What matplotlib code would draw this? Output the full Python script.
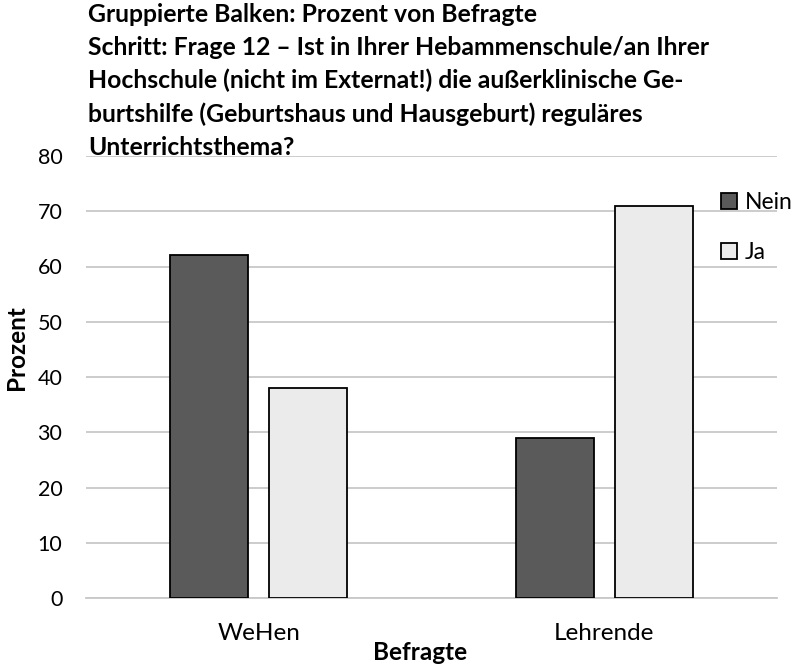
import matplotlib
matplotlib.use('Agg')
import matplotlib.pyplot as plt
import numpy as np

# data
groups = ['WeHen', 'Lehrende']
nein = [62, 29]
ja = [38, 71]
series_names = ['Nein', 'Ja']
yticks = [0, 10, 20, 30, 40, 50, 60, 70, 80]

title = ('Gruppierte Balken: Prozent von Befragte\n'
         'Schritt: Frage 12 \u2013 Ist in Ihrer Hebammenschule/an Ihrer\n'
         'Hochschule (nicht im Externat!) die au\u00dferklinische Ge-\n'
         'burtshilfe (Geburtshaus und Hausgeburt) regul\u00e4res\n'
         'Unterrichtsthema?')

plt.rcParams['font.family'] = ['Lato', 'DejaVu Sans']

fig = plt.figure(figsize=[7.98, 6.67], dpi=100)
ax = fig.add_axes([86 / 798, 1 - 598 / 667, 691 / 798, 442 / 667])

x = np.arange(len(groups))
w = 0.226
off = 0.143
ax.bar(x - off, nein, w, color='#5a5a5a', edgecolor='black', linewidth=1.3, label=series_names[0], zorder=3)
ax.bar(x + off, ja, w, color='#ebebeb', edgecolor='black', linewidth=1.3, label=series_names[1], zorder=3)

ax.set_xlim(-0.5, 1.5)
ax.set_ylim(0, 80)
ax.set_yticks(yticks)
ax.set_xticks(x)
ax.set_xticklabels(groups)
ax.tick_params(axis='both', length=0, colors='black')
ax.tick_params(axis='y', labelsize=15.5, pad=17)
ax.tick_params(axis='x', labelsize=17.5, pad=18)
ax.grid(axis='y', color='#c8c8c8', linewidth=1.3, zorder=0)
for s in ['top', 'right', 'left']:
    ax.spines[s].set_visible(False)
ax.spines['bottom'].set_color('#c8c8c8')
ax.spines['bottom'].set_linewidth(1.3)

fig.text(420 / 798, 1 - 653 / 667, 'Befragte', fontsize=17.5, fontweight='bold',
         ha='center', va='center')
fig.text(16.5 / 798, 1 - 348 / 667, 'Prozent', fontsize=17.5, fontweight='bold',
         rotation=90, ha='center', va='center')
fig.text(88 / 798, 1 - 3 / 667, title, fontsize=17.8, fontweight='bold',
         ha='left', va='top', linespacing=1.52)

fig.legend(loc='upper left', bbox_to_anchor=(721 / 798, 1 - 192 / 667), frameon=False,
           fontsize=16.5, handlelength=0.7, handleheight=0.7, handletextpad=0.35,
           labelspacing=1.25, borderaxespad=0, borderpad=0)

fig.savefig('out.png', dpi=100)
